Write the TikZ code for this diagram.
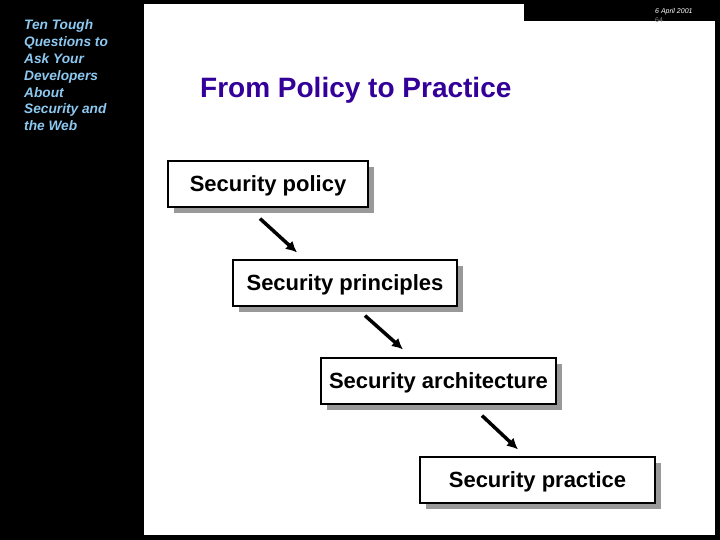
\documentclass[tikz,border=0pt]{standalone}
\usepackage{fontspec}
\setmainfont{Liberation Sans}
\usetikzlibrary{shadows,arrows.meta}
\definecolor{sidetext}{RGB}{140,200,240}
\definecolor{titleblue}{RGB}{51,0,153}
\definecolor{shadowgray}{RGB}{153,153,153}
\begin{document}
\begin{tikzpicture}[x=1pt,y=-1pt,
    level/.style={draw=black, line width=1.2pt, fill=white, minimum height=46pt, inner sep=0pt,
      text depth=0pt, font=\fontsize{22}{26}\selectfont\bfseries,
      drop shadow={shadow xshift=6pt, shadow yshift=-6pt, fill=shadowgray, opacity=1}},
    flow/.style={-{Latex[length=11pt,width=11pt]}, line width=3.5pt}]
  \useasboundingbox (0,0) rectangle (720,540);
  % Slide background
  \fill[black] (0,0) rectangle (720,540);
  \fill[white] (144,4) rectangle (715,535);
  \fill[black] (524,4) rectangle (715,21);
  % Header and side text
  \node[text=white, font=\fontsize{7}{8}\selectfont\itshape, anchor=base west, inner sep=0pt] (date) at (655,14) {6 April 2001};
  \node[text=gray, font=\fontsize{7}{8}\selectfont, anchor=base west, inner sep=0pt] (page) at (655,23) {64};
  \node[text=sidetext, font=\fontsize{13.7}{16.8}\selectfont\bfseries\itshape, align=left, anchor=base west, inner sep=0pt] (side) at (24,130.8)
    {Ten Tough\\Questions to\\Ask Your\\Developers\\About\\Security and\\the Web};
  \node[text=titleblue, font=\fontsize{28}{32}\selectfont\bfseries, anchor=base west, inner sep=0pt] (title) at (200,98) {From Policy to Practice};
  % Steps
  \node[level, minimum width=200pt] (policy) at (268,184) {Security policy};
  \node[level, minimum width=224pt] (principles) at (345,283) {Security principles};
  \node[level, minimum width=235pt] (architecture) at (438.5,381) {Security architecture};
  \node[level, minimum width=235pt] (practice) at (537.5,480) {Security practice};
  % Arrows
  \draw[flow] ([shift={(-8,11)}]policy.south) -- ([shift={(-48,-7)}]principles.north);
  \draw[flow] ([shift={(20,9)}]principles.south) -- ([shift={(-35.5,-8)}]architecture.north);
  \draw[flow] ([shift={(43.5,11)}]architecture.south) -- ([shift={(-19.5,-7)}]practice.north);
\end{tikzpicture}
\end{document}
